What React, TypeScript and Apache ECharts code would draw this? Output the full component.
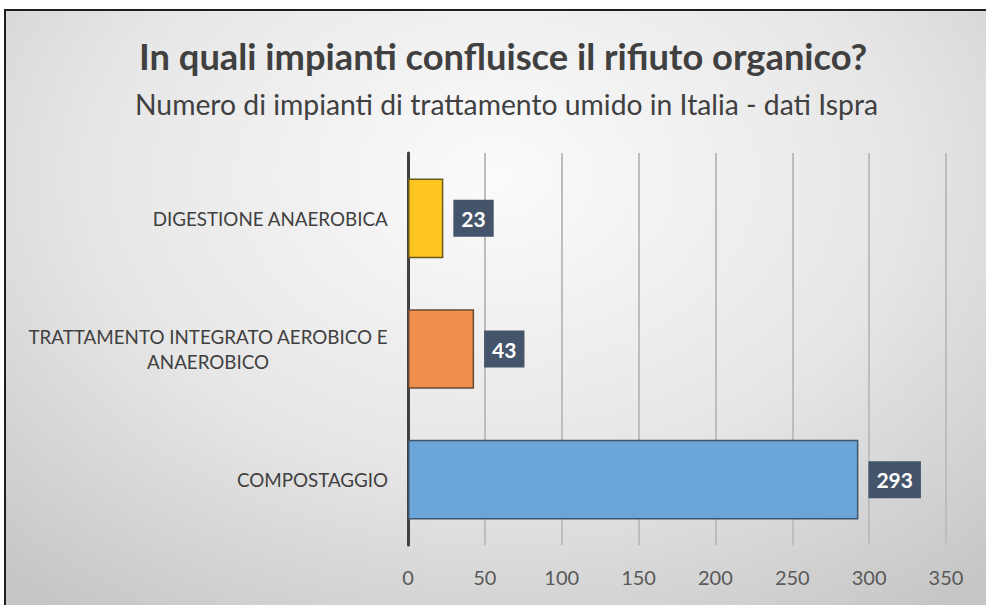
import React, { useEffect, useRef } from "react";
import * as echarts from "echarts";

const categories = [
  "DIGESTIONE ANAEROBICA",
  "TRATTAMENTO INTEGRATO AEROBICO E\nANAEROBICO",
  "COMPOSTAGGIO",
];
const values = [23, 43, 293];
const barColors = ["#FFC61F", "#EE8F4B", "#6BA5D9"];
const barBorders = ["#6b5a1e", "#6b4a35", "#3f5468"];
const xTicks = { min: 0, max: 350, interval: 50 };
const titleText = "In quali impianti confluisce il rifiuto organico?";
const subtitleText = "Numero di impianti di trattamento umido in Italia - dati Ispra";

export default function App() {
  const ref = useRef<HTMLDivElement>(null);
  useEffect(() => {
    document.body.style.margin = "0";
    const chart = echarts.init(ref.current!, undefined, { renderer: "svg" });
    chart.setOption({
      animation: false,
      backgroundColor: "transparent",
      textStyle: { fontFamily: "Lato" },
      title: [
        {
          text: titleText,
          left: 134,
          top: 33,
          textStyle: { fontFamily: "Lato", fontWeight: "bold", fontSize: 36.3, color: "#404040" },
        },
        {
          text: subtitleText,
          left: 130,
          top: 85,
          textStyle: { fontFamily: "Lato", fontWeight: "normal", fontSize: 28.3, color: "#404040" },
        },
      ],
      grid: { left: 408, right: 40, top: 153, bottom: 60, containLabel: false },
      xAxis: {
        type: "value",
        min: xTicks.min,
        max: xTicks.max,
        interval: xTicks.interval,
        axisLine: { show: false },
        axisTick: { show: false },
        splitLine: { show: true, lineStyle: { color: "#bdbdbd", width: 2 } },
        axisLabel: { fontSize: 20, color: "#595959", margin: 22, fontFamily: "Lato" },
      },
      yAxis: {
        type: "category",
        inverse: true,
        data: categories,
        axisLine: { show: true, lineStyle: { color: "#404040", width: 3 } },
        axisTick: { show: false },
        axisLabel: {
          margin: 20,
          formatter: (v: string) => v.split("\n").map((l) => `{c|${l}}`).join("\n"),
          rich: {
            c: { align: "center", fontSize: 18.8, color: "#404040", fontFamily: "Lato", lineHeight: 25 },
          },
        },
      },
      series: [
        {
          type: "bar",
          barCategoryGap: "39%",
          data: values.map((v, i) => ({
            value: v,
            itemStyle: { color: barColors[i], borderColor: barBorders[i], borderWidth: 1.5 },
          })),
          label: {
            show: true,
            position: "right",
            distance: 10,
            backgroundColor: "#44546A",
            color: "#ffffff",
            fontWeight: "bold",
            fontSize: 21,
            fontFamily: "Lato",
            padding: [8, 8, 8, 8],
          },
        },
      ],
    });
    return () => chart.dispose();
  }, []);
  return (
    <div style={{ position: "relative", width: 986, height: 605, background: "#ffffff", overflow: "hidden" }}>
      <div
        style={{
          position: "absolute",
          left: 4,
          top: 9,
          width: 982,
          height: 596,
          boxSizing: "border-box",
          borderTop: "2px solid #1e1e1e",
          borderLeft: "2px solid #1e1e1e",
          background: "radial-gradient(ellipse 75% 90% at 50% 28%, #fbfbfb 0%, #e6e6e6 55%, #c6c6c6 100%)",
        }}
      />
      <div ref={ref} style={{ position: "absolute", left: 0, top: 0, width: 986, height: 605 }} />
    </div>
  );
}
